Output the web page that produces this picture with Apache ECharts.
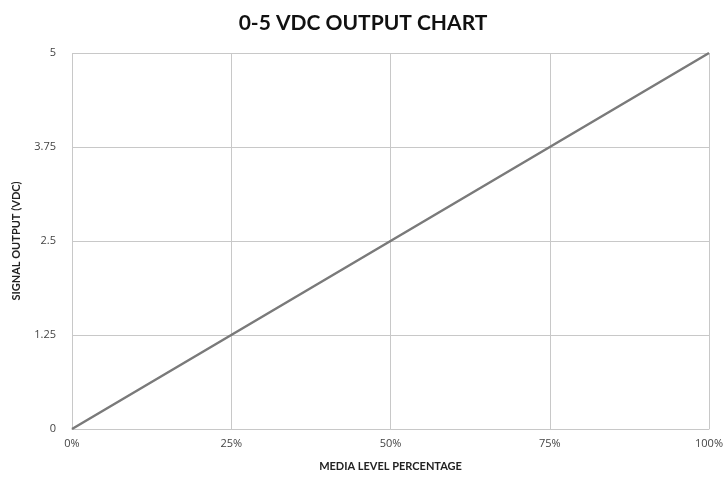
<!DOCTYPE html>
<html>
<head>
<meta charset="utf-8">
<script src="https://cdn.jsdelivr.net/npm/echarts@6/dist/echarts.min.js"></script>
<style>
  html, body { margin: 0; padding: 0; background: #fff; }
  #chart { width: 726px; height: 477px; }
</style>
</head>
<body>
<div id="chart"></div>
<script>
// Media level (%) versus output signal (VDC)
const levels = [0, 25, 50, 75, 100];
const volts = [0, 1.25, 2.5, 3.75, 5];

const chart = echarts.init(document.getElementById('chart'));
const font = '"Open Sans", Lato, sans-serif';

chart.setOption({
  animation: false,
  backgroundColor: '#ffffff',
  title: {
    text: '0-5 VDC OUTPUT CHART',
    left: 'center',
    top: 8,
    textStyle: { fontFamily: 'Lato, sans-serif', fontSize: 21, fontWeight: 'bold', color: '#111' }
  },
  grid: { left: 72, right: 16, top: 53, bottom: 47 },
  xAxis: {
    type: 'value',
    min: 0, max: 100, interval: 25,
    name: 'MEDIA LEVEL PERCENTAGE',
    nameLocation: 'middle',
    nameGap: 32,
    nameTextStyle: { fontFamily: 'Lato, sans-serif', fontSize: 11, fontWeight: 'bold', color: '#222' },
    axisLine: { show: true, lineStyle: { color: '#c8c8c8', width: 1 } },
    axisTick: { show: false },
    axisLabel: { formatter: '{value}%', fontFamily: font, fontSize: 11, color: '#444', margin: 9 },
    splitLine: { show: true, lineStyle: { color: '#c8c8c8', width: 1 } }
  },
  yAxis: {
    type: 'value',
    min: 0, max: 5, interval: 1.25,
    name: 'SIGNAL OUTPUT (VDC)',
    nameLocation: 'middle',
    nameGap: 50,
    nameTextStyle: { fontFamily: 'Lato, sans-serif', fontSize: 11, fontWeight: 'bold', color: '#222' },
    axisLine: { show: false },
    axisTick: { show: false },
    axisLabel: { fontFamily: font, fontSize: 11, color: '#444', margin: 16 },
    splitLine: { show: true, lineStyle: { color: '#c8c8c8', width: 1 } }
  },
  series: [{
    type: 'line',
    data: levels.map((l, i) => [l, volts[i]]),
    symbol: 'none',
    lineStyle: { color: '#7a7a7a', width: 2.5 }
  }]
});
</script>
</body>
</html>
